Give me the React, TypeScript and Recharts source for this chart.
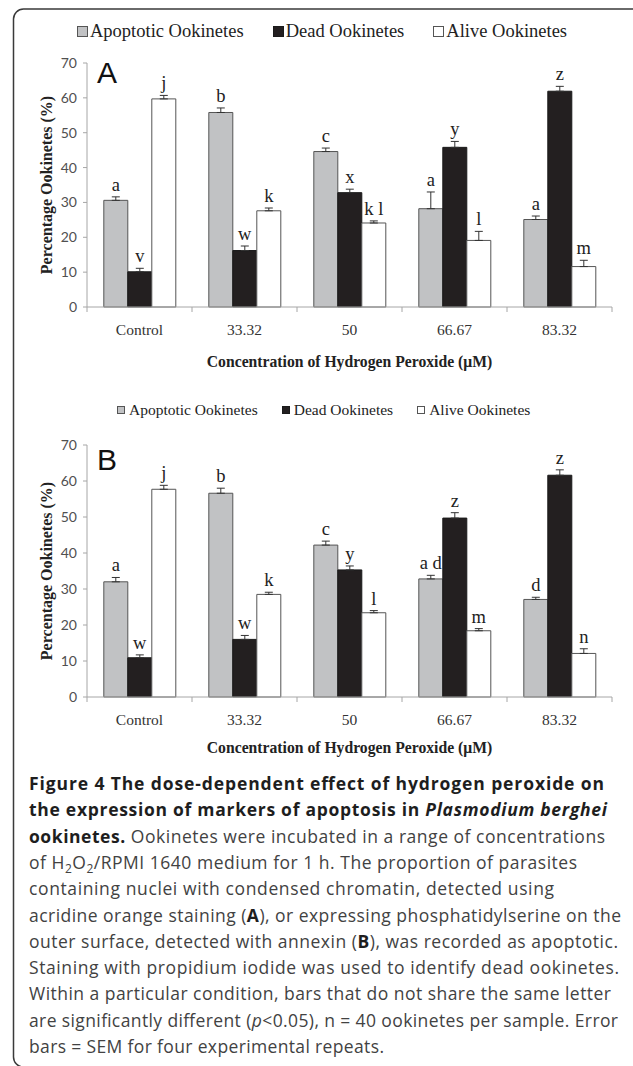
import React from "react";
import { BarChart, Bar, XAxis, YAxis, ErrorBar, LabelList, Legend } from "recharts";

const categories = ["Control", "33.32", "50", "66.67", "83.32"];
const yTicks = [0, 10, 20, 30, 40, 50, 60, 70];

// panel A - acridine orange
const apoA = [30.6, 55.8, 44.6, 28.2, 25.1];
const apoErrA = [1.0, 1.3, 1.0, 4.8, 1.0];
const apoLettersA = ["a", "b", "c", "a", "a"];
const deadA = [10.1, 16.2, 32.8, 45.8, 61.9];
const deadErrA = [1.0, 1.3, 1.0, 1.7, 1.4];
const deadLettersA = ["v", "w", "x", "y", "z"];
const aliveA = [59.7, 27.6, 24.1, 19.1, 11.6];
const aliveErrA = [1.0, 0.8, 0.6, 2.6, 1.8];
const aliveLettersA = ["j", "k", "k l", "l", "m"];

// panel B - annexin
const apoB = [32.0, 56.6, 42.2, 32.8, 27.1];
const apoErrB = [1.2, 1.4, 1.1, 1.0, 0.6];
const apoLettersB = ["a", "b", "c", "a d", "d"];
const deadB = [10.9, 16.0, 35.3, 49.7, 61.6];
const deadErrB = [0.8, 1.1, 1.1, 1.5, 1.5];
const deadLettersB = ["w", "w", "y", "z", "z"];
const aliveB = [57.7, 28.5, 23.4, 18.4, 12.1];
const aliveErrB = [1.1, 0.6, 0.6, 0.6, 1.3];
const aliveLettersB = ["j", "k", "l", "m", "n"];

const series = [
  { key: "apo", name: "Apoptotic Ookinetes", fill: "#c1c2c4", stroke: "#555555" },
  { key: "dead", name: "Dead Ookinetes", fill: "#231f20", stroke: "#1a1a1a" },
  { key: "alive", name: "Alive Ookinetes", fill: "#ffffff", stroke: "#555555" },
];

const SERIF = "'Liberation Serif', 'DejaVu Serif', serif";
const SANS = "Lato, 'Liberation Sans', sans-serif";
const PLOT_LEFT = 87;
const PLOT_RIGHT = 612;
const BAND = (PLOT_RIGHT - PLOT_LEFT) / categories.length;

function buildRows(
  apo: number[], apoErr: number[], apoL: string[],
  dead: number[], deadErr: number[], deadL: string[],
  alive: number[], aliveErr: number[], aliveL: string[]
) {
  return categories.map((name, i) => ({
    name,
    apo: apo[i], apoErr: [0, apoErr[i]], apoLetter: apoL[i],
    dead: dead[i], deadErr: [0, deadErr[i]], deadLetter: deadL[i],
    alive: alive[i], aliveErr: [0, aliveErr[i]], aliveLetter: aliveL[i],
  }));
}

const rowsA = buildRows(apoA, apoErrA, apoLettersA, deadA, deadErrA, deadLettersA, aliveA, aliveErrA, aliveLettersA);
const rowsB = buildRows(apoB, apoErrB, apoLettersB, deadB, deadErrB, deadLettersB, aliveB, aliveErrB, aliveLettersB);

function CategoryTick(props: any) {
  const { x, y, payload, index } = props;
  const left = x - BAND / 2;
  const right = x + BAND / 2;
  return (
    <g>
      <line x1={left} y1={y} x2={left} y2={y + 5} stroke="#a6a6a6" />
      {index === categories.length - 1 && <line x1={right} y1={y} x2={right} y2={y + 5} stroke="#a6a6a6" />}
      <text x={x} y={y + 28} textAnchor="middle" fontFamily={SERIF} fontSize={15.5} fill="#333">
        {payload.value}
      </text>
    </g>
  );
}

function letterLabel(errs: number[], pxPerUnit: number) {
  return (props: any) => {
    const vb = props.viewBox ?? props;
    const x = vb.x + vb.width / 2;
    const top = Math.min(vb.y, vb.y + vb.height);
    const y = top - errs[props.index] * pxPerUnit - 6;
    return (
      <text x={x} y={y} textAnchor="middle" fontFamily={SERIF} fontSize={18.5} fill="#222">
        {props.value}
      </text>
    );
  };
}

function makeLegend(box: number, fontSize: number, gap: number, boxGap: number) {
  return () => (
    <div style={{ display: "flex", alignItems: "center", fontFamily: SERIF, fontSize, color: "#222", whiteSpace: "nowrap", lineHeight: 1 }}>
      {series.map((s, i) => (
        <div key={s.key} style={{ display: "flex", alignItems: "center", marginRight: i < series.length - 1 ? gap : 0 }}>
          <span style={{ display: "inline-block", width: box, height: box, background: s.fill, border: `1px solid ${s.stroke}`, boxSizing: "border-box", marginRight: boxGap }} />
          <span>{s.name}</span>
        </div>
      ))}
    </div>
  );
}

type PanelProps = {
  rows: any[];
  errs: { apo: number[]; dead: number[]; alive: number[] };
  plotTop: number;
  plotBottom: number;
  height: number;
  titleGap: number;
  legendTop: number;
  legendLeft: number;
  legend: () => React.ReactNode;
};

function Panel({ rows, errs, plotTop, plotBottom, height, titleGap, legendTop, legendLeft, legend }: PanelProps) {
  const pxPerUnit = (plotBottom - plotTop) / 70;
  return (
    <BarChart
      width={633}
      height={height}
      data={rows}
      margin={{ top: plotTop, right: 633 - PLOT_RIGHT, bottom: height - plotBottom - 70, left: PLOT_LEFT - 60 }}
      barCategoryGap="16%"
      barGap={0}
    >
      <XAxis
        dataKey="name"
        height={70}
        axisLine={{ stroke: "#a6a6a6" }}
        tickLine={false}
        tickSize={0}
        tickMargin={0}
        tick={<CategoryTick />}
        interval={0}
        label={(p: any) => (
          <text
            x={p.viewBox.x + p.viewBox.width / 2}
            y={p.viewBox.y + titleGap}
            textAnchor="middle"
            fontFamily={SERIF}
            fontWeight="bold"
            fontSize={15.7}
            fill="#222"
          >
            Concentration of Hydrogen Peroxide (μM)
          </text>
        )}
      />
      <YAxis
        width={60}
        domain={[0, 70]}
        ticks={yTicks}
        interval={0}
        axisLine={{ stroke: "#a6a6a6" }}
        tickLine={{ stroke: "#a6a6a6" }}
        tickSize={4}
        tickMargin={6}
        tick={{ fontFamily: SANS, fontSize: 14, fill: "#505050" }}
        label={(p: any) => (
          <text
            transform={`translate(${p.viewBox.x + 19}, ${p.viewBox.y + p.viewBox.height / 2}) rotate(-90)`}
            textAnchor="middle"
            dominantBaseline="central"
            fontFamily={SERIF}
            fontWeight="bold"
            fontSize={16}
            fill="#222"
          >
            Percentage Ookinetes (%)
          </text>
        )}
      />
      <Legend
        verticalAlign="middle"
        align="center"
        layout="horizontal"
        content={legend}
        wrapperStyle={{ top: legendTop, left: legendLeft, width: "auto", height: "auto" }}
      />
      {series.map((s) => (
        <Bar
          key={s.key}
          dataKey={s.key}
          name={s.name}
          fill={s.fill}
          stroke={s.stroke}
          strokeWidth={1}
          isAnimationActive={false}
        >
          <ErrorBar dataKey={`${s.key}Err`} width={4} stroke="#333" strokeWidth={1} direction="y" />
          <LabelList dataKey={`${s.key}Letter`} content={letterLabel((errs as any)[s.key], pxPerUnit)} />
        </Bar>
      ))}
    </BarChart>
  );
}

const CAP_X = 29;
const CAP_Y0 = 790;
const CAP_DY = 26.3;
const CAP_FONT = "'Open Sans', 'Noto Sans', sans-serif";
const BOLD = "#1e1e1e";
const REG = "#424242";

export default function App() {
  const lineY = (i: number) => CAP_Y0 + i * CAP_DY;
  const common = { x: CAP_X, fontFamily: CAP_FONT, fontSize: 17.5, lengthAdjust: "spacing" as const };
  return (
    <div style={{ position: "absolute", left: 0, top: 0, width: 633, height: 1066, background: "#fff", overflow: "hidden" }}>
      <svg width={633} height={1066} style={{ position: "absolute", left: 0, top: 0 }}>
        <rect x={13.5} y={9} width={700} height={1058} rx={10} ry={10} fill="none" stroke="#3a3a3a" strokeWidth={1.5} />
      </svg>

      <div style={{ position: "absolute", left: 0, top: 0 }}>
        <Panel
          rows={rowsA}
          errs={{ apo: apoErrA, dead: deadErrA, alive: aliveErrA }}
          plotTop={63}
          plotBottom={307}
          height={400}
          titleGap={60}
          legendTop={22}
          legendLeft={77}
          legend={makeLegend(11, 18.5, 29, 2)}
        />
      </div>

      <div style={{ position: "absolute", left: 0, top: 385 }}>
        <Panel
          rows={rowsB}
          errs={{ apo: apoErrB, dead: deadErrB, alive: aliveErrB }}
          plotTop={60}
          plotBottom={312}
          height={400}
          titleGap={56}
          legendTop={17}
          legendLeft={117}
          legend={makeLegend(8, 15.5, 24, 4)}
        />
      </div>

      <svg width={633} height={1066} style={{ position: "absolute", left: 0, top: 0, pointerEvents: "none" }}>
        <text x={97} y={83} fontFamily="'Liberation Sans', Arial, sans-serif" fontSize={30} fill="#111">A</text>
        <text x={97} y={470} fontFamily="'Liberation Sans', Arial, sans-serif" fontSize={30} fill="#111">B</text>

        <text {...common} y={lineY(0)} textLength={575} fontWeight="bold" fill={BOLD}>
          Figure 4 The dose-dependent effect of hydrogen peroxide on
        </text>
        <text {...common} y={lineY(1)} textLength={578} fontWeight="bold" fill={BOLD}>
          the expression of markers of apoptosis in <tspan fontStyle="italic">Plasmodium berghei</tspan>
        </text>
        <text {...common} y={lineY(2)} textLength={576} fill={REG}>
          <tspan fontWeight="bold" fill={BOLD}>ookinetes.</tspan> Ookinetes were incubated in a range of concentrations
        </text>
        <text {...common} y={lineY(3)} textLength={548} fill={REG}>
          of H<tspan fontSize={12} dy={4}>2</tspan><tspan dy={-4}>O</tspan><tspan fontSize={12} dy={4}>2</tspan><tspan dy={-4}>/RPMI 1640 medium for 1 h. The proportion of parasites</tspan>
        </text>
        <text {...common} y={lineY(4)} textLength={525} fill={REG}>
          containing nuclei with condensed chromatin, detected using
        </text>
        <text {...common} y={lineY(5)} textLength={592} fill={REG}>
          acridine orange staining (<tspan fontWeight="bold" fill={BOLD}>A</tspan>), or expressing phosphatidylserine on the
        </text>
        <text {...common} y={lineY(6)} textLength={589} fill={REG}>
          outer surface, detected with annexin (<tspan fontWeight="bold" fill={BOLD}>B</tspan>), was recorded as apoptotic.
        </text>
        <text {...common} y={lineY(7)} textLength={590} fill={REG}>
          Staining with propidium iodide was used to identify dead ookinetes.
        </text>
        <text {...common} y={lineY(8)} textLength={582} fill={REG}>
          Within a particular condition, bars that do not share the same letter
        </text>
        <text {...common} y={lineY(9)} textLength={589} fill={REG}>
          are significantly different (<tspan fontStyle="italic">p</tspan>&lt;0.05), n = 40 ookinetes per sample. Error
        </text>
        <text {...common} y={lineY(10)} textLength={355} fill={REG}>
          bars = SEM for four experimental repeats.
        </text>
      </svg>
    </div>
  );
}
